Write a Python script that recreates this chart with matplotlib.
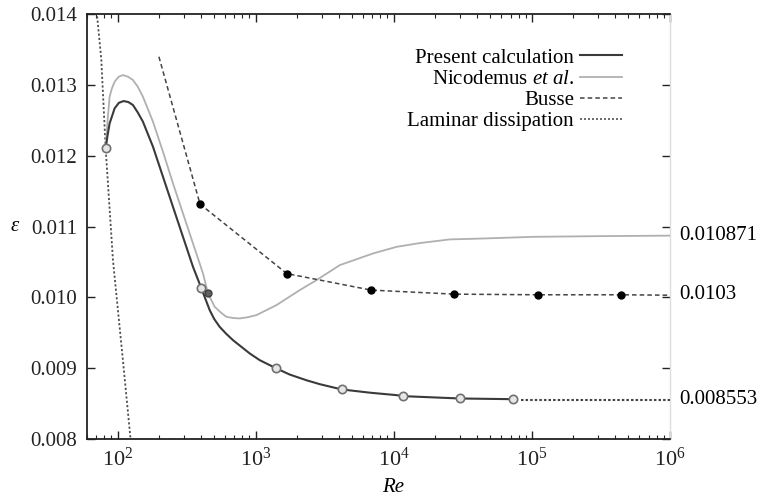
import matplotlib
matplotlib.use("Agg")
import matplotlib.pyplot as plt
from matplotlib.lines import Line2D

plt.rcParams['font.family'] = ['Liberation Serif', 'DejaVu Serif']
plt.rcParams['mathtext.fontset'] = 'custom'
plt.rcParams['mathtext.rm'] = 'Liberation Serif'
plt.rcParams['mathtext.it'] = 'Liberation Serif:italic'
plt.rcParams['mathtext.default'] = 'regular'

# ---------------- data ----------------
# Present calculation: smooth curve
present_re = [81.9, 84.6, 87.5, 95.1, 102.2, 110.5, 119.5, 129.1, 140.3, 152.5,
              180.3, 213.0, 251.6, 297.3, 351.3, 404.2, 430, 464.2, 500, 548.4,
              610, 684.7, 904.4, 1069, 1413, 1762, 2325, 2911, 4188, 6700, 10480,
              11700, 30000, 73000]
present_eps = [0.012103, 0.012290, 0.012456, 0.012668, 0.012747, 0.012771, 0.012757,
               0.012715, 0.012606, 0.012479, 0.012126, 0.011702, 0.011278, 0.010854,
               0.010431, 0.010126, 0.009989, 0.009819, 0.009695, 0.009583, 0.009487,
               0.009395, 0.009208, 0.009113, 0.008996, 0.008910, 0.008830, 0.008774,
               0.008700, 0.008654, 0.008619, 0.008605, 0.008572, 0.008562]
# Present calculation: open-circle markers
present_mark_re = [81.9, 404.2, 1413, 4188, 11700, 30000, 73000]
present_mark_eps = [0.012103, 0.010126, 0.008996, 0.008700, 0.008605, 0.008572, 0.008562]
# asymptote
asym_re = [84000, 1e6]
asym_eps = [0.008553, 0.008553]

# Nicodemus et al.
nico_re = [81.9, 84.6, 87.5, 90.9, 95.1, 101.9, 109.2, 118.8, 129.1, 140.0, 152.5,
           180.3, 213.0, 251.6, 297.3, 351.3, 415, 451, 504.6, 560, 613.4, 680,
           765.6, 880, 1012, 1413, 2084, 2757, 4064, 7080, 10480, 15420, 25470,
           41980, 102000, 311000, 1e6]
nico_eps = [0.012103, 0.012503, 0.012832, 0.012950, 0.013044, 0.013115, 0.013138,
            0.013115, 0.013068, 0.012973, 0.012832, 0.012479, 0.012055, 0.011609,
            0.011185, 0.010761, 0.010338, 0.010055, 0.009866, 0.009784, 0.009725,
            0.009709, 0.009702, 0.009720, 0.009749, 0.009890, 0.010102, 0.010243,
            0.010455, 0.010620, 0.010713, 0.010766, 0.010818, 0.010829, 0.010854,
            0.010864, 0.010871]
nico_mark_re = [451]
nico_mark_eps = [0.010055]

# Busse
busse_re = [199, 395, 1680, 6860, 27400, 110000, 441000, 1e6]
busse_eps = [0.013397, 0.011316, 0.010335, 0.010102, 0.010045, 0.010036, 0.010036, 0.010030]
busse_mark_re = busse_re[1:7]
busse_mark_eps = busse_eps[1:7]

# Laminar dissipation
lam_re = [66, 70.8, 76.2, 81.9, 92.5, 109.2, 124]
lam_eps = [0.0150, 0.0140, 0.01335, 0.01210, 0.010525, 0.009113, 0.0080]

# annotation values
right_labels = ['0.010871', '0.0103', '0.008553']
right_label_eps = [0.010871, 0.010036, 0.008553]

yticks = [0.008, 0.009, 0.010, 0.011, 0.012, 0.013, 0.014]

FS = 15

# ---------------- figure ----------------
fig = plt.figure(figsize=(7.62, 4.99), dpi=100)
ax = fig.add_axes([87/762, 1-439/499, (670-87)/762, (439-14)/499])

ax.plot(lam_re, lam_eps, color='#505050', lw=1.3, ls=(0, (1.2, 1.2)), zorder=2)
ax.plot(nico_re, nico_eps, color='#b0b0b0', lw=1.3, zorder=3)
ax.plot(busse_re, busse_eps, color='#444444', lw=1.1, ls=(0, (3, 2)), zorder=3)
ax.plot(busse_mark_re, busse_mark_eps, ls='none', marker='o', ms=5,
        mfc='black', mec='black', zorder=5)
ax.plot(present_re, present_eps, color='#3a3a3a', lw=1.5, zorder=4)
ax.plot(asym_re, asym_eps, color='#444444', lw=1.5, ls=(0, (1.2, 1.0)), zorder=4)
ax.plot(present_mark_re, present_mark_eps, ls='none', marker='o', ms=6,
        mfc='#e6e6e6', mec='#707070', mew=1.2, zorder=6)
ax.plot(nico_mark_re, nico_mark_eps, ls='none', marker='o', ms=5,
        mfc='#606060', mec='#404040', mew=1.0, zorder=6)

ax.set_xscale('log')
ax.set_xlim(60, 1e6)
ax.set_ylim(0.008, 0.014)
ax.set_yticks(yticks)
ax.set_yticklabels([f'{v:.3f}' for v in yticks])

ax.tick_params(which='both', direction='in', top=True, right=True,
               labelsize=FS, colors='#222222')
ax.tick_params(axis='x', labelsize=16)
ax.tick_params(which='major', length=6, width=1.0)
ax.tick_params(which='minor', length=3, width=0.8)
ax.tick_params(axis='y', pad=7)
ax.tick_params(axis='x', pad=6)
ax.minorticks_on()
ax.yaxis.set_minor_locator(matplotlib.ticker.NullLocator())

for s in ['left', 'bottom', 'top']:
    ax.spines[s].set_linewidth(1.3)
    ax.spines[s].set_color('#222222')
ax.spines['right'].set_color('#dddddd')
ax.spines['right'].set_linewidth(1.0)

ax.set_xlabel('Re', fontsize=FS, style='italic', va='center')
ax.xaxis.set_label_coords((393-87)/(670-87), -(487-439)/(439-14))
ax.set_ylabel('ε', fontsize=FS, style='italic', rotation=0, va='center', ha='center')
ax.yaxis.set_label_coords(-(87-15)/(670-87), 0.5)

for lab, v in zip(right_labels, right_label_eps):
    ax.annotate(lab, xy=(1e6, v), xytext=(7, 0), textcoords='offset points',
                ha='left', va='center', fontsize=FS, annotation_clip=False)

handles = [
    Line2D([], [], color='#3a3a3a', lw=1.5),
    Line2D([], [], color='#b0b0b0', lw=1.3),
    Line2D([], [], color='#444444', lw=1.1, ls=(0, (3, 2))),
    Line2D([], [], color='#505050', lw=1.2, ls=(0, (1.2, 1.2))),
]
labels = ['Present calculation', r'Nicodemus $\it{et\ al}$.', 'Busse', 'Laminar dissipation']
leg = ax.legend(handles, labels, loc='upper right', markerfirst=False,
                frameon=False, fontsize=FS, handlelength=2.0, handletextpad=0.3,
                labelspacing=0.08, bbox_to_anchor=((622-87)/(670-87), 1-(48-14)/(439-14)),
                borderaxespad=0, borderpad=0)

fig.savefig('out.png', dpi=100)
